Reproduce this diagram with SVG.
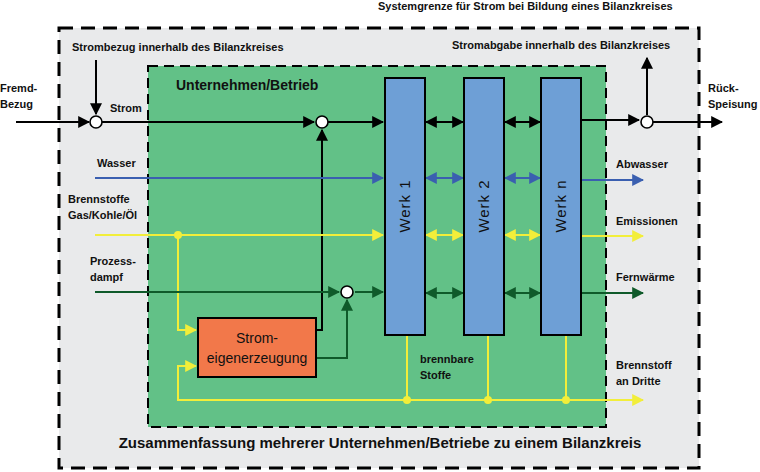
<svg xmlns="http://www.w3.org/2000/svg" width="760" height="472" viewBox="0 0 760 472">
<style>
text{font-family:"Liberation Sans",Arial,sans-serif;font-weight:bold;font-size:11px;fill:#111}
text.big{font-size:14px}
text.title{font-size:15px}
text.n14{font-size:14px;font-weight:normal}
.k{stroke:#000;stroke-width:2;fill:none}
.b{stroke:#3a5fb0;stroke-width:2;fill:none}
.y{stroke:#f2ee3a;stroke-width:2;fill:none}
.g{stroke:#0f5a2a;stroke-width:2;fill:none}
.werk{fill:#6e9fd6;stroke:#000;stroke-width:2}
text.wt{font-weight:normal;font-size:15px;letter-spacing:1px}
.c{fill:#fff;stroke:#000;stroke-width:1.6}
.dot{fill:#f2ee3a}
</style>
<defs>
<marker id="ak" viewBox="0 0 10 10" refX="9" refY="5" markerWidth="6" markerHeight="6" orient="auto-start-reverse"><path d="M0,0L10,5L0,10z" fill="#000"/></marker>
<marker id="ab" viewBox="0 0 10 10" refX="9" refY="5" markerWidth="6" markerHeight="6" orient="auto-start-reverse"><path d="M0,0L10,5L0,10z" fill="#3a5fb0"/></marker>
<marker id="ay" viewBox="0 0 10 10" refX="9" refY="5" markerWidth="6" markerHeight="6" orient="auto-start-reverse"><path d="M0,0L10,5L0,10z" fill="#f2ee3a"/></marker>
<marker id="ag" viewBox="0 0 10 10" refX="9" refY="5" markerWidth="6" markerHeight="6" orient="auto-start-reverse"><path d="M0,0L10,5L0,10z" fill="#0f5a2a"/></marker>
</defs>
<rect width="760" height="472" fill="#fff"/>
<rect x="59" y="28" width="640" height="440" fill="#e9eaeb" stroke="#000" stroke-width="3" stroke-dasharray="14,8"/>
<rect x="148" y="66" width="458" height="361" fill="#62c187" stroke="#000" stroke-width="2" stroke-dasharray="10,6"/>
<text x="378" y="10">Systemgrenze für Strom bei Bildung eines Bilanzkreises</text>
<text x="72" y="51">Strombezug innerhalb des Bilanzkreises</text>
<text x="452" y="49">Stromabgabe innerhalb des Bilanzkreises</text>
<text x="0" y="92">Fremd-</text><text x="0" y="108">Bezug</text>
<text x="708" y="92">Rück-</text><text x="708" y="108">Speisung</text>
<text x="110" y="112">Strom</text>
<text x="97" y="167">Wasser</text>
<text x="68" y="203">Brennstoffe</text><text x="68" y="219">Gas/Kohle/Öl</text>
<text x="90" y="265">Prozess-</text><text x="90" y="281">dampf</text>
<text class="big" x="176" y="90">Unternehmen/Betrieb</text>
<text x="616" y="168">Abwasser</text>
<text x="616" y="225">Emissionen</text>
<text x="616" y="281">Fernwärme</text>
<text x="616" y="369">Brennstoff</text><text x="616" y="385">an Dritte</text>
<text x="420" y="363">brennbare</text><text x="420" y="379">Stoffe</text>
<text class="title" x="380" y="448" text-anchor="middle">Zusammenfassung mehrerer Unternehmen/Betriebe zu einem Bilanzkreis</text>
<g id="connectors">
<path class="k" d="M16,122H89" marker-end="url(#ak)"/>
<path class="k" d="M96,60V114" marker-end="url(#ak)"/>
<path class="k" d="M102,122H314" marker-end="url(#ak)"/>
<path class="k" d="M328,122H383" marker-end="url(#ak)"/>
<path class="k" d="M316,330H322V130" marker-end="url(#ak)"/>
<path class="k" d="M426,122H463" marker-start="url(#ak)" marker-end="url(#ak)"/>
<path class="k" d="M505,122H540" marker-start="url(#ak)" marker-end="url(#ak)"/>
<path class="k" d="M582,120H639" marker-end="url(#ak)"/>
<path class="k" d="M647,115V58" marker-end="url(#ak)"/>
<path class="k" d="M653,122H722" marker-end="url(#ak)"/>
<path class="b" d="M95,178H383" marker-end="url(#ab)"/>
<path class="b" d="M426,178H463" marker-start="url(#ab)" marker-end="url(#ab)"/>
<path class="b" d="M505,178H540" marker-start="url(#ab)" marker-end="url(#ab)"/>
<path class="b" d="M582,180H643" marker-end="url(#ab)"/>
<path class="y" d="M95,235H383" marker-end="url(#ay)"/>
<path class="y" d="M426,235H463" marker-start="url(#ay)" marker-end="url(#ay)"/>
<path class="y" d="M505,235H540" marker-start="url(#ay)" marker-end="url(#ay)"/>
<path class="y" d="M582,236H643" marker-end="url(#ay)"/>
<path class="y" d="M178,235V330H196" marker-end="url(#ay)"/>
<path class="y" d="M183,400H178V366H196" marker-end="url(#ay)"/>
<path class="y" d="M178,400H643" marker-end="url(#ay)"/>
<path class="y" d="M407,335V400M488,335V400M566,335V400"/>
<circle class="dot" cx="178" cy="235" r="4"/>
<circle class="dot" cx="407" cy="400" r="4"/>
<circle class="dot" cx="488" cy="400" r="4"/>
<circle class="dot" cx="566" cy="400" r="4"/>
<path class="g" d="M95,292H339" marker-end="url(#ag)"/>
<path class="g" d="M355,292H383" marker-end="url(#ag)"/>
<path class="g" d="M316,358H347V300" marker-end="url(#ag)"/>
<path class="g" d="M426,293H463" marker-start="url(#ag)" marker-end="url(#ag)"/>
<path class="g" d="M505,293H540" marker-start="url(#ag)" marker-end="url(#ag)"/>
<path class="g" d="M582,293H643" marker-end="url(#ag)"/>
<circle class="c" cx="96" cy="122" r="6"/>
<circle class="c" cx="322" cy="122" r="6"/>
<circle class="c" cx="647" cy="122" r="6"/>
<circle class="c" cx="347" cy="292" r="6" stroke="#0f5a2a"/>
</g>
<g id="werk1"><rect class="werk" x="385" y="78" width="40" height="257"/><text class="wt" transform="translate(410,206) rotate(-90)" text-anchor="middle">Werk 1</text></g>
<g id="werk2"><rect class="werk" x="464" y="78" width="40" height="257"/><text class="wt" transform="translate(489,206) rotate(-90)" text-anchor="middle">Werk 2</text></g>
<g id="werkn"><rect class="werk" x="541" y="78" width="40" height="257"/><text class="wt" transform="translate(566,206) rotate(-90)" text-anchor="middle">Werk n</text></g>
<g id="eigen"><rect x="198" y="318" width="118" height="59" fill="#f2784a" stroke="#000" stroke-width="2"/>
<text class="n14" x="257" y="343" text-anchor="middle">Strom-</text>
<text class="n14" x="257" y="363" text-anchor="middle">eigenerzeugung</text></g>
</svg>
